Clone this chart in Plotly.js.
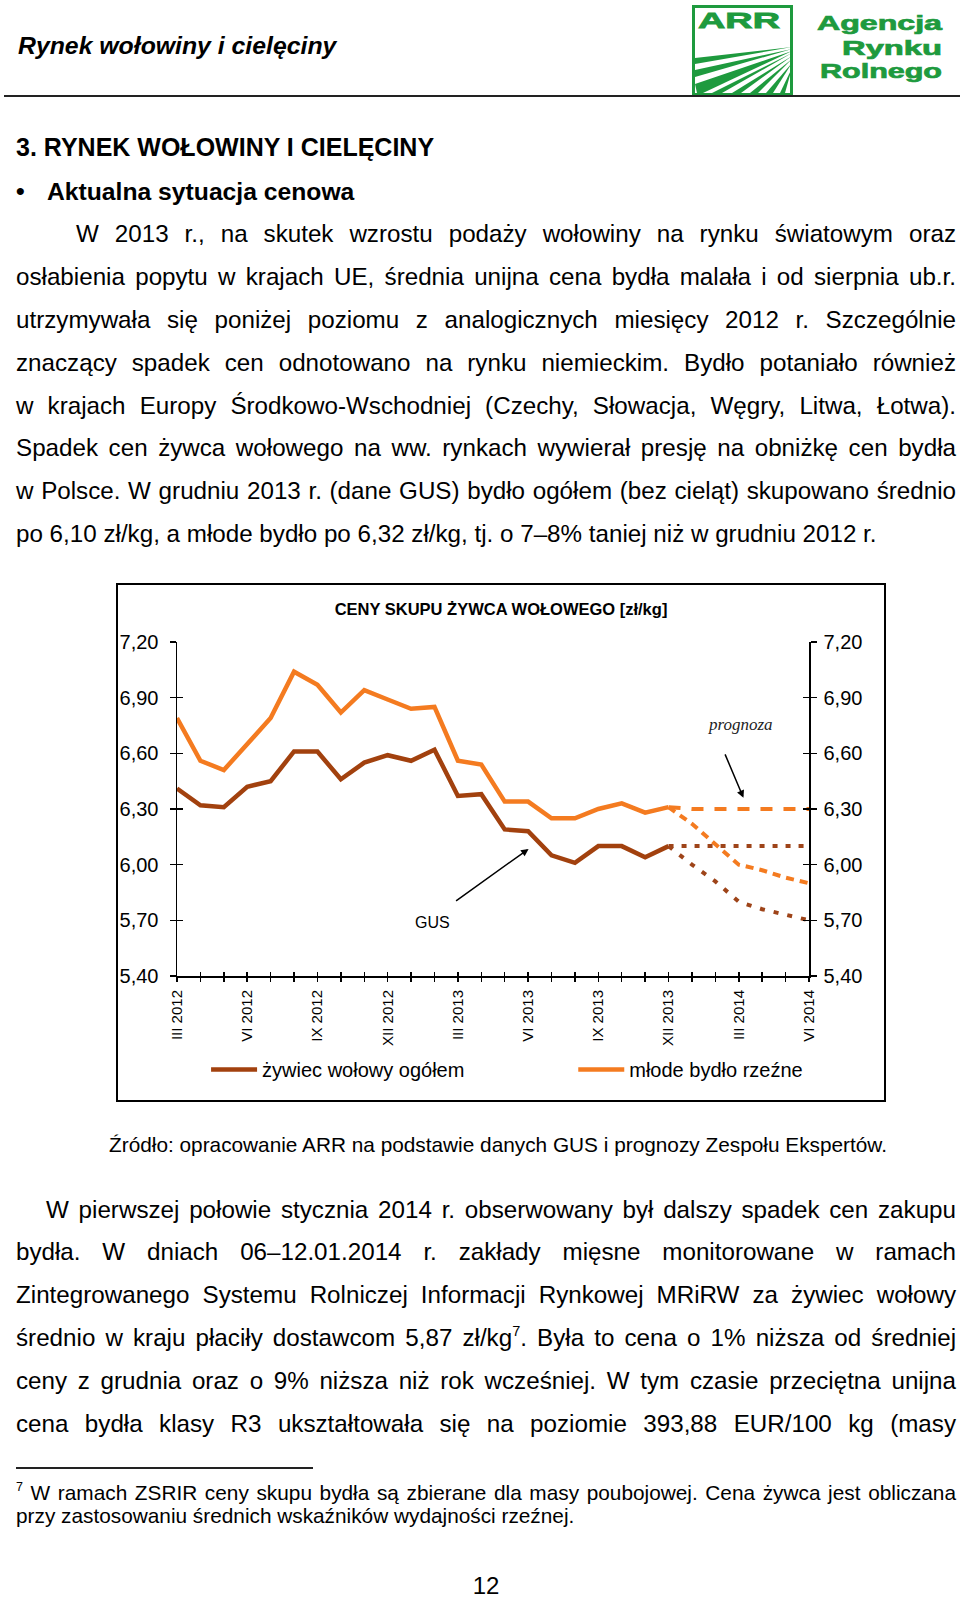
<!DOCTYPE html>
<html>
<head>
<meta charset="utf-8">
<script src="https://cdn.plot.ly/plotly-3.0.1.min.js"></script>
<style>
  html, body { margin:0; padding:0; background:#fff; }
  #page { position:relative; width:960px; height:1598px; overflow:hidden; font-family:"Liberation Sans", Arial, sans-serif; color:#000; }
  .ln { position:absolute; white-space:nowrap; height:30px; line-height:30px; font-size:24.2px; }
  .j { text-align:justify; text-align-last:justify; }
  .fn { font-size:20.8px; height:24px; line-height:24px; }
  sup { font-size:0.6em; line-height:0; position:relative; top:-0.1em; vertical-align:super; }
  #chartbox { position:absolute; left:116px; top:583px; width:766px; height:515px; border:2px solid #000; }
  #chart { position:absolute; left:117px; top:584px; width:768px; height:517px; }
</style>
</head>
<body>
<div id="page">
  <svg style="position:absolute;left:0;top:0" width="960" height="100">
    <rect x="693.5" y="6.5" width="98" height="88" fill="none" stroke="#1E9A3E" stroke-width="3"/>
    <text x="698" y="28" font-family="Liberation Sans, Arial" font-weight="bold" font-size="22" fill="#1E9A3E" stroke="#1E9A3E" stroke-width="0.8" textLength="82" lengthAdjust="spacingAndGlyphs">ARR</text>
    <g fill="#1E9A3E">
      <polygon points="792,47 695,58 695,64"/>
      <polygon points="792,49 695,70 695,77"/>
      <polygon points="792,51 695,84 697,93 703,93"/>
      <polygon points="792,53 712,93 722,93"/>
      <polygon points="792,56 732,93 741,93"/>
      <polygon points="792,59 750,93 758,93"/>
      <polygon points="792,63 766,93 773,93"/>
      <polygon points="792,68 780,93 785,93"/>
    </g>
    <g font-family="Liberation Sans, Arial" font-weight="bold" fill="#1E9A3E" text-anchor="end" stroke="#1E9A3E" stroke-width="0.7">
      <text x="942" y="30" font-size="20" textLength="125" lengthAdjust="spacingAndGlyphs">Agencja</text>
      <text x="942" y="55" font-size="20" textLength="100" lengthAdjust="spacingAndGlyphs">Rynku</text>
      <text x="942" y="78" font-size="20" textLength="122" lengthAdjust="spacingAndGlyphs">Rolnego</text>
    </g>
  </svg>
  <div class="ln" style="left:18px;top:31px;font-weight:bold;font-style:italic;font-size:24.8px;">Rynek wołowiny i cielęciny</div>
  <div style="position:absolute;left:4px;top:95px;width:956px;height:1.5px;background:#222;"></div>

  <div class="ln" style="left:16px;top:132px;font-weight:bold;font-size:25px;">3. RYNEK WOŁOWINY I CIELĘCINY</div>
  <div class="ln" style="left:16px;top:177px;font-weight:bold;font-size:24.7px;">•</div>
  <div class="ln" style="left:47px;top:177px;font-weight:bold;font-size:24.7px;">Aktualna sytuacja cenowa</div>

  <div id="p1"></div>
  <div id="chartbox"></div>
  <div id="chart"></div>
  <div class="ln fn" style="left:109px;top:1133px;">Źródło: opracowanie ARR na podstawie danych GUS i prognozy Zespołu Ekspertów.</div>
  <div id="p2"></div>
  <div style="position:absolute;left:16px;top:1467px;width:297px;height:1.5px;background:#222;"></div>
  <div class="ln fn j" style="left:16px;top:1481px;width:940px;"><sup>7</sup> W ramach ZSRIR ceny skupu bydła są zbierane dla masy poubojowej. Cena żywca jest obliczana</div>
  <div class="ln fn" style="left:16px;top:1504px;">przy zastosowaniu średnich wskaźników wydajności rzeźnej.</div>
  <div class="ln" style="left:0;top:1574px;width:972px;height:24px;line-height:24px;text-align:center;font-size:24px;">12</div>
</div>
<script>
// ---------- text of the page ----------
const para1 = [
  'W 2013 r., na skutek wzrostu podaży wołowiny na rynku światowym oraz',
  'osłabienia popytu w krajach UE, średnia unijna cena bydła malała i od sierpnia ub.r.',
  'utrzymywała się poniżej poziomu z analogicznych miesięcy 2012 r. Szczególnie',
  'znaczący spadek cen odnotowano na rynku niemieckim. Bydło potaniało również',
  'w krajach Europy Środkowo-Wschodniej (Czechy, Słowacja, Węgry, Litwa, Łotwa).',
  'Spadek cen żywca wołowego na ww. rynkach wywierał presję na obniżkę cen bydła',
  'w Polsce. W grudniu 2013 r. (dane GUS) bydło ogółem (bez cieląt) skupowano średnio',
  'po 6,10 zł/kg, a młode bydło po 6,32 zł/kg, tj. o 7–8% taniej niż w grudniu 2012 r.'
];
const para2 = [
  'W pierwszej połowie stycznia 2014 r. obserwowany był dalszy spadek cen zakupu',
  'bydła. W dniach 06–12.01.2014 r. zakłady mięsne monitorowane w ramach',
  'Zintegrowanego Systemu Rolniczej Informacji Rynkowej MRiRW za żywiec wołowy',
  'średnio w kraju płaciły dostawcom 5,87 zł/kg<sup>7</sup>. Była to cena o 1% niższa od średniej',
  'ceny z grudnia oraz o 9% niższa niż rok wcześniej. W tym czasie przeciętna unijna',
  'cena bydła klasy R3 ukształtowała się na poziomie 393,88 EUR/100 kg (masy'
];
function placePara(id, lines, top0, indent, lastJustify) {
  const host = document.getElementById(id);
  lines.forEach((t, i) => {
    const d = document.createElement('div');
    d.className = 'ln';
    const left = i === 0 ? indent : 16;
    d.style.left = left + 'px';
    d.style.width = (956 - left) + 'px';
    d.style.top = (top0 + i * 42.8 - 15) + 'px';
    if (i < lines.length - 1 || lastJustify) d.classList.add('j');
    d.innerHTML = t;
    host.appendChild(d);
  });
}
placePara('p1', para1, 234.4, 76, false);
placePara('p2', para2, 1209.6, 46, true);

// ---------- chart data ----------
const months = ['III 2012','IV 2012','V 2012','VI 2012','VII 2012','VIII 2012','IX 2012','X 2012','XI 2012','XII 2012',
  'I 2013','II 2013','III 2013','IV 2013','V 2013','VI 2013','VII 2013','VIII 2013','IX 2013','X 2013','XI 2013','XII 2013',
  'I 2014','II 2014','III 2014','IV 2014','V 2014','VI 2014'];
const labeledMonths = ['III 2012','VI 2012','IX 2012','XII 2012','III 2013','VI 2013','IX 2013','XII 2013','III 2014','VI 2014'];
const zywiecOgolem = [6.41,6.32,6.31,6.42,6.45,6.61,6.61,6.46,6.55,6.59,6.56,6.62,6.37,6.38,6.19,6.18,6.05,6.01,6.10,6.10,6.04,6.10];
const mlodeBydlo   = [6.79,6.56,6.51,6.65,6.79,7.04,6.97,6.82,6.94,6.89,6.84,6.85,6.56,6.54,6.34,6.34,6.25,6.25,6.30,6.33,6.28,6.31];
const forecastMonths = ['XII 2013','I 2014','II 2014','III 2014','IV 2014','V 2014','VI 2014'];
const mlodePrognozaStala   = [6.31,6.30,6.30,6.30,6.30,6.30,6.30];
const mlodePrognozaSpadek  = [6.31,6.22,6.11,6.00,5.97,5.93,5.90];
const zywiecPrognozaStala  = [6.10,6.10,6.10,6.10,6.10,6.10,6.10];
const zywiecPrognozaSpadek = [6.10,6.00,5.91,5.80,5.76,5.73,5.70];
const yTicks = [5.40,5.70,6.00,6.30,6.60,6.90,7.20];
const seriesNames = ['żywiec wołowy ogółem','młode bydło rzeźne'];
const chartTitle = 'CENY SKUPU ŻYWCA WOŁOWEGO [zł/kg]';

const BROWN = '#A2410E', ORANGE = '#F47B20';
const FONT = 'Liberation Sans, Arial, sans-serif';
const idx = m => months.indexOf(m);
const xActual = months.slice(0, zywiecOgolem.length).map(idx);
const xFc = forecastMonths.map(idx);
const allX = months.map(idx);

const traces = [
  {x:xActual, y:zywiecOgolem, name:seriesNames[0], mode:'lines', line:{color:BROWN, width:4.5}, legend:'legend'},
  {x:xActual, y:mlodeBydlo, name:seriesNames[1], mode:'lines', line:{color:ORANGE, width:4.5}, legend:'legend2'},
  {x:xFc, y:mlodePrognozaStala, mode:'lines', line:{color:ORANGE, width:4, dash:'12px,11px'}, showlegend:false},
  {x:xFc, y:mlodePrognozaSpadek, mode:'lines', line:{color:ORANGE, width:4, dash:'8px,6px'}, showlegend:false},
  {x:xFc, y:zywiecPrognozaStala, mode:'lines', line:{color:'#9E4419', width:4, dash:'5px,8px'}, showlegend:false},
  {x:xFc, y:zywiecPrognozaSpadek, mode:'lines', line:{color:'#9E4419', width:4, dash:'5px,9px'}, showlegend:false},
  {x:[], y:[], xaxis:'x', yaxis:'y2', showlegend:false, hoverinfo:'skip'},
  {x:[], y:[], xaxis:'x2', yaxis:'y3', showlegend:false, hoverinfo:'skip'},
  {x:[], y:[], xaxis:'x2', yaxis:'y4', showlegend:false, hoverinfo:'skip'}
];

const yBase = {range:[5.4,7.2], tickvals:yTicks, tickformat:'.2f', showgrid:false, zeroline:false,
  ticklen:6, tickwidth:1.5, tickcolor:'#000', fixedrange:true};
const legendBase = {orientation:'h', xanchor:'left', yanchor:'middle', y:-0.28, font:{family:FONT, size:20, color:'#000'},
  itemwidth:46, bgcolor:'rgba(0,0,0,0)', borderwidth:0};

const layout = {
  width:768, height:517,
  margin:{l:60, r:76, t:58, b:125, pad:0},
  paper_bgcolor:'rgba(0,0,0,0)', plot_bgcolor:'rgba(0,0,0,0)',
  separators:', ',
  font:{family:FONT, color:'#000'},
  title:{text:chartTitle, font:{family:FONT, size:16.5, weight:'bold', color:'#000'}, x:0.5, xref:'container', y:0.952, yref:'container', yanchor:'middle'},
  showlegend:true,
  xaxis:{range:[0,27], tickvals:allX, ticktext:months.map(m => labeledMonths.includes(m) ? m : ''), tickangle:-90,
    tickfont:{family:FONT, size:15, color:'#000'}, ticks:'outside', ticklen:4.5, tickwidth:1.5, tickcolor:'#000',
    showline:true, linecolor:'#000', linewidth:1.5, showgrid:false, zeroline:false, ticklabelstandoff:2, fixedrange:true},
  xaxis2:{range:[0,27], overlaying:'x', anchor:'y', side:'bottom', tickvals:allX, showticklabels:false, ticks:'inside',
    ticklen:4.5, tickwidth:1.5, tickcolor:'#000', showline:false, showgrid:false, zeroline:false},
  yaxis:Object.assign({}, yBase, {side:'left', ticks:'outside', showline:true, linecolor:'#000', linewidth:1.5,
    tickfont:{family:FONT, size:20, color:'#000'}, ticklabelstandoff:7}),
  yaxis2:Object.assign({}, yBase, {side:'right', overlaying:'y', anchor:'x', ticks:'outside', showline:true, linecolor:'#000', linewidth:1.5,
    tickfont:{family:FONT, size:20, color:'#000'}, ticklabelstandoff:3}),
  yaxis3:Object.assign({}, yBase, {side:'left', overlaying:'y', anchor:'x2', ticks:'inside', showticklabels:false, showline:false}),
  yaxis4:Object.assign({}, yBase, {side:'right', overlaying:'y', anchor:'x2', ticks:'inside', showticklabels:false, showline:false}),
  legend:Object.assign({}, legendBase, {x:0.046}),
  legend2:Object.assign({}, legendBase, {x:0.627}),
  annotations:[
    {x:24.08, y:6.758, xref:'x', yref:'y', text:'<i>prognoza</i>', showarrow:false,
     font:{family:'Liberation Serif, Times New Roman, serif', size:17, color:'#222'}},
    {x:24.2, y:6.36, xref:'x', yref:'y', text:'', showarrow:true, ax:-19, ay:-45,
     arrowhead:2, arrowsize:1, arrowwidth:1.5, arrowcolor:'#000'},
    {x:15.02, y:6.085, xref:'x', yref:'y', text:'', showarrow:true, ax:-74, ay:53,
     arrowhead:2, arrowsize:1, arrowwidth:1.5, arrowcolor:'#000'},
    {x:10.9, y:5.686, xref:'x', yref:'y', text:'GUS', showarrow:false,
     font:{family:FONT, size:16, color:'#000'}}
  ]
};
Plotly.newPlot('chart', traces, layout, {displayModeBar:false, staticPlot:true});
</script>
</body>
</html>
